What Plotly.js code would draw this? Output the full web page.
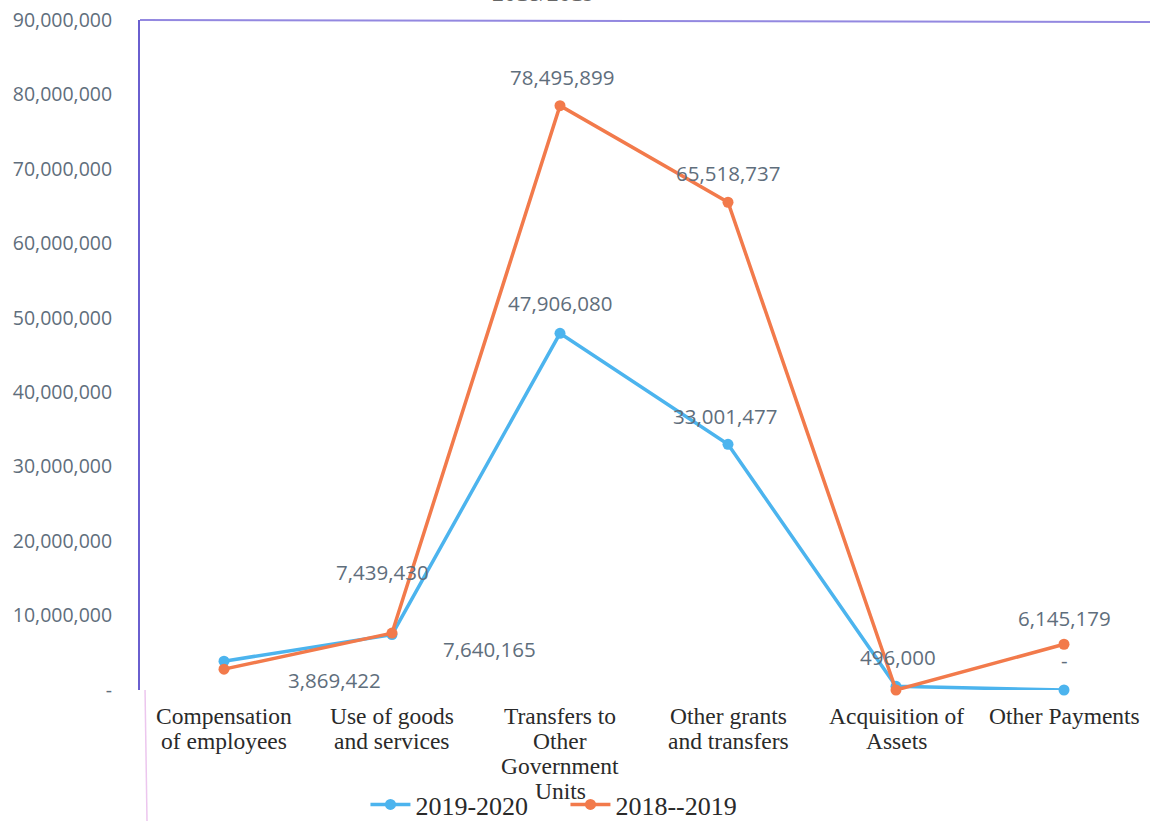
<!DOCTYPE html>
<html>
<head>
<meta charset="utf-8">
<script src="https://cdn.plot.ly/plotly-3.0.1.min.js"></script>
<style>html,body{margin:0;padding:0;background:#fff;}#chart{width:1154px;height:821px;}</style>
</head>
<body>
<div id="chart"></div>
<script>
// ---- data ----
var categories = ["Compensation of employees", "Use of goods and services", "Transfers to Other Government Units", "Other grants and transfers", "Acquisition of Assets", "Other Payments"];
var categoryLines = [["Compensation", "of employees"], ["Use of goods", "and services"], ["Transfers to", "Other", "Government", "Units"], ["Other grants", "and transfers"], ["Acquisition of", "Assets"], ["Other Payments"]];
var series2019_2020 = [3869422, 7439430, 47906080, 33001477, 496000, 0];
var series2018_2019 = [2800000, 7640165, 78495899, 65518737, 0, 6145179];
var yTickVals = [0, 10000000, 20000000, 30000000, 40000000, 50000000, 60000000, 70000000, 80000000, 90000000];
var yTickText = ["-", "10,000,000", "20,000,000", "30,000,000", "40,000,000", "50,000,000", "60,000,000", "70,000,000", "80,000,000", "90,000,000"];
var titleText = "2018/2019";

// which points get a data label, and pixel offsets of label (styling, not data)
var labels2019 = [{i:0, dx:110, dy:-19}, {i:1, dx:-10, dy:63}, {i:2, dx:0, dy:30}, {i:3, dx:-3, dy:28}, {i:4, dx:2, dy:29}, {i:5, dx:0, dy:30}];
var labels2018 = [{i:1, dx:97, dy:-16}, {i:2, dx:2, dy:29}, {i:3, dx:0, dy:29}, {i:5, dx:0, dy:26}];

function fmt(v){ return v === 0 ? "-" : v.toLocaleString("en-US"); }

var blue = "#4cb4ee", orange = "#f27a4b", labelColor = "#5f6e7c";

var traces = [
  {x: categories, y: series2019_2020, name: "2019-2020", type: "scatter", mode: "lines+markers",
   line: {color: blue, width: 3.5}, marker: {color: blue, size: 11}, cliponaxis: false},
  {x: categories, y: series2018_2019, name: "2018--2019", type: "scatter", mode: "lines+markers",
   line: {color: orange, width: 3.5}, marker: {color: orange, size: 11}, cliponaxis: false}
];

var annotations = [];
function addLabels(list, arr){
  list.forEach(function(l){
    annotations.push({x: categories[l.i], y: arr[l.i], xref: "x", yref: "y", text: fmt(arr[l.i]),
      showarrow: false, xshift: l.dx, yshift: l.dy,
      font: {family: "Open Sans, Liberation Sans, sans-serif", size: 20.5, color: labelColor}});
  });
}
addLabels(labels2019, series2019_2020);
addLabels(labels2018, series2018_2019);

// category labels (multi-line, tight spacing)
categoryLines.forEach(function(lines, ci){
  lines.forEach(function(t, li){
    annotations.push({x: categories[ci], y: 0, xref: "x", yref: "paper", text: t, showarrow: false,
      yanchor: "middle", yshift: -26 - li*25,
      font: {family: "Liberation Serif, serif", size: 23.5, color: "#2a2a2a"}});
  });
});

// partially visible title at top
annotations.push({x: 0.40, y: 1.041, xref: "paper", yref: "paper", text: titleText, showarrow: false,
  yanchor: "middle", font: {family: "Liberation Serif, serif", size: 24, color: "#666"}});

var layout = {
  width: 1154, height: 821,
  margin: {l: 140, r: 6, t: 20, b: 131},
  paper_bgcolor: "#fff", plot_bgcolor: "#fff",
  showlegend: true,
  legend: {orientation: "h", xref: "container", yref: "container", x: 0.49, xanchor: "center", y: 0.02, yanchor: "middle",
    font: {family: "Liberation Serif, serif", size: 26, color: "#2a2a2a"}, itemwidth: 40, tracegroupgap: 0,
    entrywidth: 145, entrywidthmode: "pixels"},
  xaxis: {type: "category", categoryarray: categories, showticklabels: false, showgrid: false,
    zeroline: false, showline: false, range: [-0.5, 5.5], fixedrange: true},
  yaxis: {range: [0, 90000000], tickvals: yTickVals, ticktext: yTickText, showgrid: false, zeroline: false,
    showline: true, linecolor: "#6a5fcf", linewidth: 2, ticks: "", ticklabelstandoff: 22,
    tickfont: {family: "Open Sans, Liberation Sans, sans-serif", size: 19.5, color: labelColor}},
  shapes: [
    {type: "line", xref: "paper", yref: "paper", x0: 0, x1: 1.002, y0: 1, y1: 0.997, line: {color: "#9388e0", width: 2}},
    {type: "line", xref: "paper", yref: "paper", x0: 0.005, x1: 0.007, y0: 0, y1: -0.2, line: {color: "#ecc6ee", width: 1.5}}
  ],
  annotations: annotations
};

Plotly.newPlot("chart", traces, layout, {displayModeBar: false, staticPlot: true});
</script>
</body>
</html>
